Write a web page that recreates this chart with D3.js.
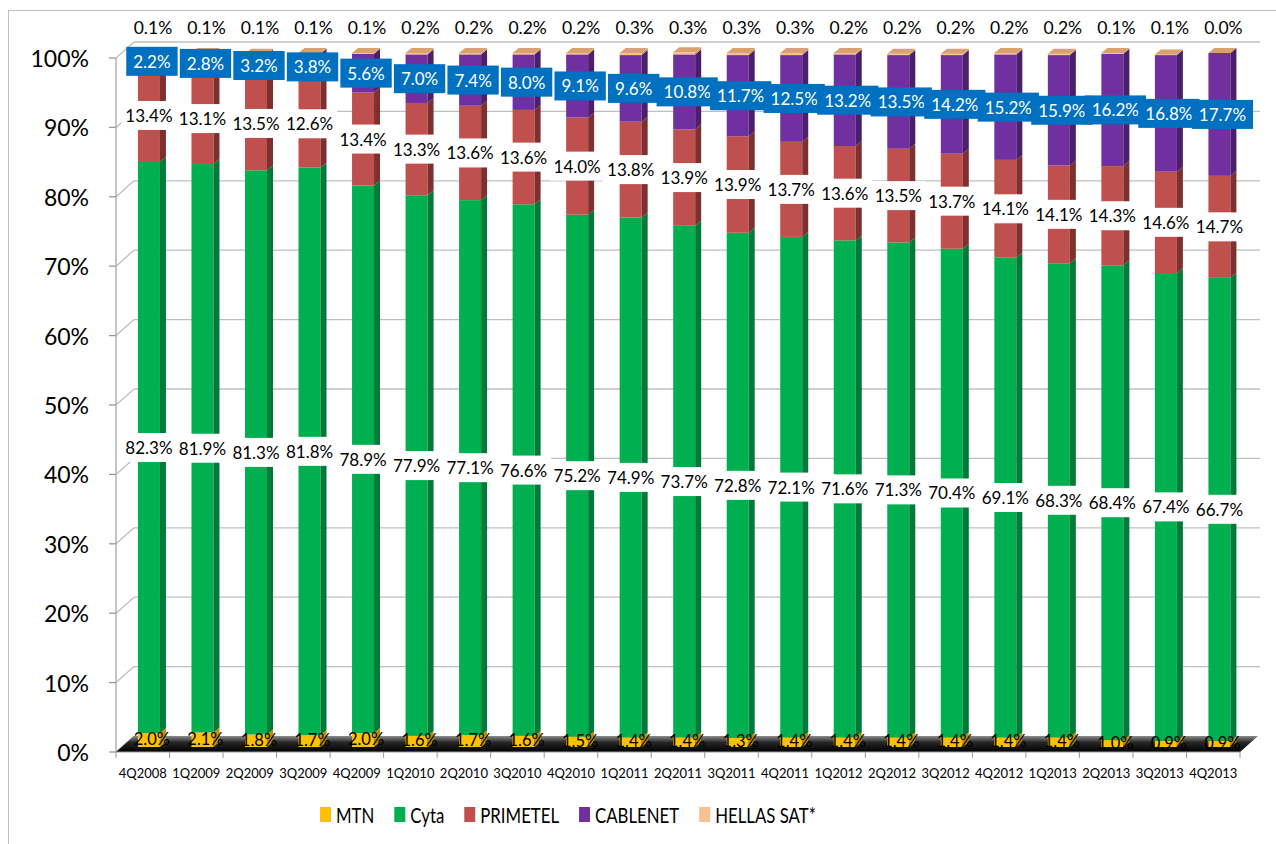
<!DOCTYPE html>
<html><head><meta charset="utf-8">
<script src="https://cdn.jsdelivr.net/npm/d3@7"></script>
<style>
html,body{margin:0;padding:0;background:#fff;}
svg text{font-family:Lato,"Noto Sans",sans-serif;}
</style></head>
<body>
<svg id="chart" width="1276" height="844"></svg>
<script>
const categories = ["4Q2008","1Q2009","2Q2009","3Q2009","4Q2009","1Q2010","2Q2010","3Q2010","4Q2010","1Q2011","2Q2011","3Q2011","4Q2011","1Q2012","2Q2012","3Q2012","4Q2012","1Q2013","2Q2013","3Q2013","4Q2013"];
const mtn      = [2.0,2.1,1.8,1.7,2.0,1.6,1.7,1.6,1.5,1.4,1.4,1.3,1.4,1.4,1.4,1.4,1.4,1.4,1.0,0.9,0.9];
const cyta     = [82.3,81.9,81.3,81.8,78.9,77.9,77.1,76.6,75.2,74.9,73.7,72.8,72.1,71.6,71.3,70.4,69.1,68.3,68.4,67.4,66.7];
const primetel = [13.4,13.1,13.5,12.6,13.4,13.3,13.6,13.6,14.0,13.8,13.9,13.9,13.7,13.6,13.5,13.7,14.1,14.1,14.3,14.6,14.7];
const cablenet = [2.2,2.8,3.2,3.8,5.6,7.0,7.4,8.0,9.1,9.6,10.8,11.7,12.5,13.2,13.5,14.2,15.2,15.9,16.2,16.8,17.7];
const hellas   = [0.1,0.1,0.1,0.1,0.1,0.2,0.2,0.2,0.2,0.3,0.3,0.3,0.3,0.2,0.2,0.2,0.2,0.2,0.1,0.1,0.0];
const seriesNames = ["MTN","Cyta","PRIMETEL","CABLENET","HELLAS SAT*"];
const yTicks = [0,10,20,30,40,50,60,70,80,90,100];

const frontColors = ["#FFC000","#00B050","#C0504D","#7030A0","#FAC090"];
const sideColors  = ["#BF9000","#007A38","#7E302E","#4B1F6D","#C8966C"];
const topColor = "#D9A070";

const svg = d3.select("#chart");
svg.append("rect").attr("x",8.5).attr("y",10.5).attr("width",1400).attr("height",1000)
  .attr("fill","none").attr("stroke","#BFBFBF");

const rows = categories.map((c,i)=>({cat:c,"MTN":mtn[i],"Cyta":cyta[i],"PRIMETEL":primetel[i],"CABLENET":cablenet[i],"HELLAS SAT*":hellas[i]}));
const stack = d3.stack().keys(seriesNames)(rows);

const x = d3.scaleBand().domain(categories).range([116,1240]).paddingInner(0).paddingOuter(0);
const y = d3.scaleLinear().domain([0,100]).range([752,58]);
const DX = 18, DY = -16;
const bw = 22, sdx = 6, sdy = -5;
const boff = 0.41;
const bdy = -5;
const by = v => y(v) + bdy;
const fx = c => x(c) + x.bandwidth()*boff;

const defs = svg.append("defs");
const fg = defs.append("linearGradient").attr("id","floorG").attr("x1",0).attr("y1",0).attr("x2",0).attr("y2",1);
fg.append("stop").attr("offset","0%").attr("stop-color","#8c8c8c");
fg.append("stop").attr("offset","40%").attr("stop-color","#262626");
fg.append("stop").attr("offset","100%").attr("stop-color","#000");

const [xl,xr] = x.range();
const grid = svg.append("g").attr("stroke","#BFBFBF").attr("stroke-width",1.3).attr("fill","none");
yTicks.forEach(t=>{
  if(t>0){
    grid.append("line").attr("x1",xl+DX).attr("x2",xr+DX+2).attr("y1",y(t)+DY).attr("y2",y(t)+DY);
  }
  grid.append("line").attr("x1",xl).attr("y1",y(t)).attr("x2",xl+DX).attr("y2",y(t)+DY);
  grid.append("line").attr("x1",xl-7).attr("x2",xl).attr("y1",y(t)).attr("y2",y(t)).attr("stroke","#999");
});
svg.append("line").attr("x1",xl).attr("x2",xl).attr("y1",y(100)).attr("y2",y(0)).attr("stroke","#A6A6A6").attr("stroke-width",1.3);

svg.append("path")
  .attr("d",`M${xl},${y(0)}L${xr},${y(0)}L${xr+DX},${y(0)+DY}L${xl+DX},${y(0)+DY}Z`)
  .attr("fill","url(#floorG)");
svg.append("line").attr("x1",xl).attr("x2",xr).attr("y1",y(0)).attr("y2",y(0)).attr("stroke","#999");
categories.concat([null]).forEach((c,i)=>{
  const tx = c ? x(c) : xr;
  svg.append("line").attr("x1",tx).attr("x2",tx).attr("y1",y(0)).attr("y2",y(0)+6).attr("stroke","#999");
});

const barsG = svg.append("g");
categories.forEach((c,i)=>{
  const g = barsG.append("g");
  const x0 = fx(c);
  stack.forEach((s,k)=>{
    const [v0,v1] = s[i];
    if(v1-v0<=0) return;
    g.append("rect").attr("x",x0).attr("y",by(v1)).attr("width",bw).attr("height",by(v0)-by(v1))
      .attr("fill",frontColors[k]);
    g.append("path")
      .attr("d",`M${x0+bw},${by(v1)}L${x0+bw+sdx},${by(v1)+sdy}L${x0+bw+sdx},${by(v0)+sdy}L${x0+bw},${by(v0)}Z`)
      .attr("fill",sideColors[k]);
  });
  const top = stack[stack.length-1][i][1];
  g.append("path")
    .attr("d",`M${x0},${by(top)}L${x0+bw},${by(top)}L${x0+bw+sdx},${by(top)+sdy}L${x0+sdx},${by(top)+sdy}Z`)
    .attr("fill",topColor);
});

const lab = svg.append("g");
const fmt = v => v.toFixed(1)+"%";
function addLabel(cx, cy, txt, style){
  const g = lab.append("g");
  const t = g.append("text").attr("x",cx).attr("y",cy).attr("text-anchor","middle")
    .attr("dominant-baseline","central").attr("font-size",style.size).attr("fill",style.color).text(txt);
  if(style.box){
    const w = t.node().getComputedTextLength();
    g.insert("rect","text").attr("x",cx-w/2-style.padX).attr("y",cy-style.h/2)
      .attr("width",w+2*style.padX).attr("height",style.h).attr("fill",style.box);
  }
}
categories.forEach((c,i)=>{
  const [v0,v1] = stack[0][i];
  addLabel(fx(c)+bw/2+3, by((v0+v1)/2)-1, fmt(mtn[i]), {size:16.5,color:"#000"});
});
categories.forEach((c,i)=>{
  const [v0,v1] = stack[1][i];
  addLabel(fx(c)+bw/2, by((v0+v1)/2), fmt(cyta[i]), {size:17,color:"#000",box:"#fff",padX:4,h:29});
});
categories.forEach((c,i)=>{
  const [v0,v1] = stack[2][i];
  addLabel(fx(c)+bw/2, by((v0+v1)/2), fmt(primetel[i]), {size:17,color:"#000",box:"#fff",padX:4,h:29});
});
categories.forEach((c,i)=>{
  const [v0,v1] = stack[3][i];
  addLabel(fx(c)+bw/2+3, by((v0+v1)/2), fmt(cablenet[i]), {size:17,color:"#fff",box:"#0070C0",padX:7,h:29});
});
categories.forEach((c,i)=>{
  addLabel(fx(c)+bw/2+4, y(100)-31, fmt(hellas[i]), {size:17.5,color:"#000"});
});

yTicks.forEach(t=>{
  svg.append("text").attr("x",89).attr("y",y(t)).attr("text-anchor","end").attr("dominant-baseline","central")
    .attr("font-size",23).attr("fill","#000").text(t+"%");
});
categories.forEach(c=>{
  svg.append("text").attr("x",x(c)+x.bandwidth()/2).attr("y",773).attr("text-anchor","middle")
    .attr("dominant-baseline","central").attr("font-size",13).attr("fill","#000").text(c);
});

// legend (text slightly condensed to match the narrow original face)
const leg = svg.append("g");
const sx = 0.84;
let lx = 320;
seriesNames.forEach((n,k)=>{
  leg.append("rect").attr("x",lx).attr("y",807).attr("width",11).attr("height",15).attr("fill",frontColors[k]);
  const t = leg.append("text").attr("transform",`translate(${lx+16},815) scale(${sx},1.08)`)
    .attr("dominant-baseline","central").attr("font-size",20).attr("fill","#000").text(n);
  lx += 16 + t.node().getComputedTextLength()*sx + 20;
});
</script>
</body></html>
